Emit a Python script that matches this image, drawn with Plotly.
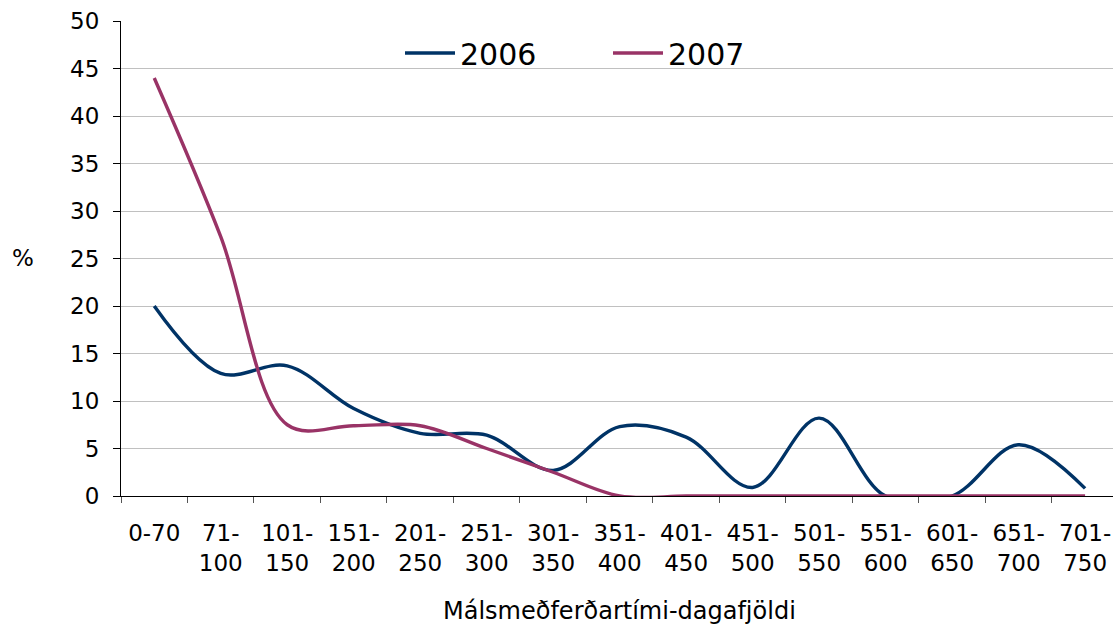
import plotly.graph_objects as go

categories = ["0-70", "71-100", "101-150", "151-200", "201-250", "251-300", "301-350",
              "351-400", "401-450", "451-500", "501-550", "551-600", "601-650",
              "651-700", "701-750"]
tick_labels = ["0-70", "71-<br>100", "101-<br>150", "151-<br>200", "201-<br>250",
               "251-<br>300", "301-<br>350", "351-<br>400", "401-<br>450", "451-<br>500",
               "501-<br>550", "551-<br>600", "601-<br>650", "651-<br>700", "701-<br>750"]
y2006 = [20.0, 12.9, 13.7, 9.2, 6.6, 6.4, 2.7, 7.3, 6.2, 0.9, 8.2, 0.0, 0.0, 5.4, 0.8]
y2007 = [44.0, 27.3, 7.5, 7.4, 7.4, 5.0, 2.5, 0.0, 0.0, 0.0, 0.0, 0.0, 0.0, 0.0, 0.0]
y_ticks = [0, 5, 10, 15, 20, 25, 30, 35, 40, 45, 50]

FONT = "DejaVu Sans"
W, H = 1113, 626
L, R, T, B = 121, 0, 21, 130
pw, ph = W - L - R, H - T - B

def px_x(p):
    return (p - L) / pw

def px_y(p):
    return (H - B - p) / ph

fig = go.Figure()
fig.add_trace(go.Scatter(x=categories, y=y2006, name="2006", mode="lines",
                         line=dict(color="#003366", width=3.4, shape="spline", smoothing=1)))
fig.add_trace(go.Scatter(x=categories, y=y2007, name="2007", mode="lines",
                         line=dict(color="#993366", width=3.4, shape="spline", smoothing=1)))

fig.update_layout(
    width=W, height=H,
    margin=dict(l=L, r=R, t=T, b=B, pad=0),
    paper_bgcolor="white", plot_bgcolor="white",
    font=dict(family=FONT, size=22, color="black"),
    showlegend=True,
    legend=dict(orientation="h", x=px_x(400), y=px_y(53), xanchor="left", yanchor="middle",
                bgcolor="rgba(0,0,0,0)", font=dict(size=30, family=FONT),
                entrywidth=143, entrywidthmode="pixels", itemwidth=50),
    xaxis=dict(type="category", categoryorder="array", categoryarray=categories,
               tickmode="array", tickvals=categories, ticktext=tick_labels,
               range=[-0.5, 14.42], showgrid=False, zeroline=False,
               showline=True, linecolor="black", linewidth=1,
               ticks="outside", tickson="boundaries", ticklen=6, tickcolor="#555555",
               tickfont=dict(size=23, family=FONT), ticklabelstandoff=16),
    yaxis=dict(range=[0, 50], tickmode="array", tickvals=y_ticks,
               showgrid=True, gridcolor="#c0c0c0", gridwidth=1, zeroline=False,
               showline=True, linecolor="black", linewidth=1,
               ticks="outside", ticklen=7, tickcolor="black",
               tickfont=dict(size=23, family=FONT), ticklabelstandoff=9),
    shapes=[dict(type="rect", xref="paper", yref="paper", layer="between",
                 x0=px_x(368), x1=px_x(783), y0=px_y(74), y1=px_y(14),
                 fillcolor="white", line=dict(width=0))],
    annotations=[
        dict(text="%", xref="paper", yref="paper", x=px_x(23), y=px_y(258),
             xanchor="center", yanchor="middle", showarrow=False,
             font=dict(size=23, family=FONT)),
        dict(text="Málsmeðferðartími-dagafjöldi", xref="paper", yref="paper",
             x=px_x(619), y=px_y(611), xanchor="center", yanchor="middle",
             showarrow=False, font=dict(size=24, family=FONT)),
    ],
)

fig.write_html("out.html", config={"displayModeBar": False},
               post_script="document.body.style.margin='0';")
